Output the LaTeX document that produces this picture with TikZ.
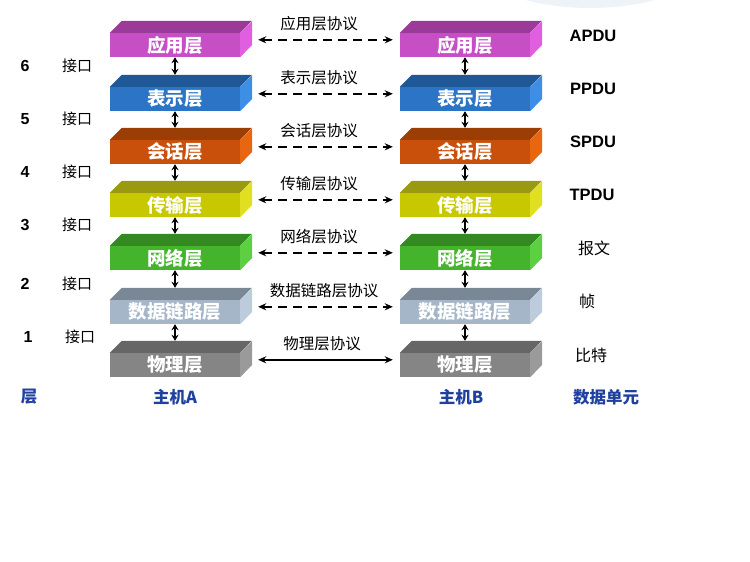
\documentclass[tikz,border=0pt]{standalone}
\usepackage{fontspec}
\setmainfont{Liberation Sans}
\newfontfamily\cjk{Noto Sans CJK SC}
\usetikzlibrary{arrows.meta}
\definecolor{swoosh}{HTML}{EEF3F8}
\definecolor{labblue}{HTML}{2040A0}
\definecolor{apF}{HTML}{C64FC6}\definecolor{apT}{HTML}{9C3A99}\definecolor{apS}{HTML}{E05EE0}
\definecolor{prF}{HTML}{2B74C6}\definecolor{prT}{HTML}{1F5896}\definecolor{prS}{HTML}{3D8EE6}
\definecolor{seF}{HTML}{C8500A}\definecolor{seT}{HTML}{9A3E06}\definecolor{seS}{HTML}{E8660F}
\definecolor{trF}{HTML}{C8C800}\definecolor{trT}{HTML}{9A9A10}\definecolor{trS}{HTML}{E0E020}
\definecolor{neF}{HTML}{44B42C}\definecolor{neT}{HTML}{338A22}\definecolor{neS}{HTML}{5CD040}
\definecolor{dlF}{HTML}{A4B6C8}\definecolor{dlT}{HTML}{7A8896}\definecolor{dlS}{HTML}{BCCCDC}
\definecolor{phF}{HTML}{858585}\definecolor{phT}{HTML}{666666}\definecolor{phS}{HTML}{9A9A9A}
\newcommand\mylayer[7]{%
  \node[frontface, fill=#4] (#1) at (#2,#3) {#7};
  \fill[#5] (#1.north west) -- ++(12,-12) -- ++(130,0) -- (#1.north east) -- cycle;
  \fill[#6] (#1.north east) -- ++(12,-12) -- ++(0,24) -- (#1.south east) -- cycle;
}
\begin{document}
\begin{tikzpicture}[x=1pt,y=-1pt,
  frontface/.style={rectangle, inner sep=0pt, minimum width=130pt, minimum height=24pt,
    text=white, font=\cjk\bfseries\fontsize{18.5}{18.5}\selectfont},
  protolab/.style={font=\cjk\fontsize{15.5}{15.5}\selectfont, text=black},
  proto/.style={line width=1.8pt, dash pattern=on 9pt off 6pt,
    {Stealth[length=8pt,width=7pt]}-{Stealth[length=8pt,width=7pt]}},
  protosolid/.style={line width=1.8pt,
    {Stealth[length=8pt,width=7pt]}-{Stealth[length=8pt,width=7pt]}},
  varrow/.style={line width=1.5pt, {Stealth[length=6pt,width=7pt]}-{Stealth[length=6pt,width=7pt]}},
  numlab/.style={font=\bfseries\fontsize{16}{16}\selectfont},
  iflab/.style={font=\cjk\fontsize{15}{15}\selectfont},
  pdulab/.style={font=\bfseries\fontsize{16.5}{16.5}\selectfont},
  pducjk/.style={font=\cjk\fontsize{16}{16}\selectfont},
  bottomlab/.style={font=\cjk\bfseries\fontsize{16.5}{16.5}\selectfont, text=labblue}
]
\useasboundingbox (0,0) rectangle (750,562);
\fill[swoosh] (590,-30) ellipse [x radius=105, y radius=38];

% host A
\mylayer{a0}{175}{45}{apF}{apT}{apS}{应用层}
\mylayer{a1}{175}{99}{prF}{prT}{prS}{表示层}
\mylayer{a2}{175}{152}{seF}{seT}{seS}{会话层}
\mylayer{a3}{175}{205}{trF}{trT}{trS}{传输层}
\mylayer{a4}{175}{258}{neF}{neT}{neS}{网络层}
\mylayer{a5}{175}{312}{dlF}{dlT}{dlS}{数据链路层}
\mylayer{a6}{175}{365}{phF}{phT}{phS}{物理层}
% host B
\mylayer{b0}{465}{45}{apF}{apT}{apS}{应用层}
\mylayer{b1}{465}{99}{prF}{prT}{prS}{表示层}
\mylayer{b2}{465}{152}{seF}{seT}{seS}{会话层}
\mylayer{b3}{465}{205}{trF}{trT}{trS}{传输层}
\mylayer{b4}{465}{258}{neF}{neT}{neS}{网络层}
\mylayer{b5}{465}{312}{dlF}{dlT}{dlS}{数据链路层}
\mylayer{b6}{465}{365}{phF}{phT}{phS}{物理层}

% vertical arrows
\foreach \i/\j in {0/1,1/2,2/3,3/4,4/5,5/6}{
  \draw[varrow] (a\i.south) -- ([yshift=12pt]a\j.north);
  \draw[varrow] (b\i.south) -- ([yshift=12pt]b\j.north);
}

% protocol arrows
\foreach \i in {0,...,5}{
  \draw[proto] ([shift={(18,7)}]a\i.north east) -- ([shift={(-7,7)}]b\i.north west);
}
\draw[protosolid] ([shift={(18,7)}]a6.north east) -- ([shift={(-7,7)}]b6.north west);

% protocol labels
\node[protolab] (p0) at (319,24) {应用层协议};
\node[protolab] (p1) at (319,78) {表示层协议};
\node[protolab] (p2) at (319,131) {会话层协议};
\node[protolab] (p3) at (319,184) {传输层协议};
\node[protolab] (p4) at (319,237) {网络层协议};
\node[protolab] (p5) at (324,291) {数据链路层协议};
\node[protolab] (p6) at (322,344) {物理层协议};

% left labels
\node[numlab] (n6) at (25,66) {6};  \node[iflab] (i6) at (77,66) {接口};
\node[numlab] (n5) at (25,119) {5}; \node[iflab] (i5) at (77,119) {接口};
\node[numlab] (n4) at (25,172) {4}; \node[iflab] (i4) at (77,172) {接口};
\node[numlab] (n3) at (25,225) {3}; \node[iflab] (i3) at (77,225) {接口};
\node[numlab] (n2) at (25,284) {2}; \node[iflab] (i2) at (77,284) {接口};
\node[numlab] (n1) at (28,337) {1}; \node[iflab] (i1) at (80,337) {接口};

% right labels
\node[pdulab] (u0) at (593,36) {APDU};
\node[pdulab] (u1) at (593,89) {PPDU};
\node[pdulab] (u2) at (593,142) {SPDU};
\node[pdulab] (u3) at (592,195) {TPDU};
\node[pducjk] (u4) at (594,248) {报文};
\node[pducjk] (u5) at (587,301) {帧};
\node[pducjk] (u6) at (591,355) {比特};

% bottom labels
\node[bottomlab] (l0) at (29,397) {层};
\node[bottomlab] (l1) at (175,397) {主机A};
\node[bottomlab] (l2) at (461,397) {主机B};
\node[bottomlab] (l3) at (606,397) {数据单元};
\end{tikzpicture}
\end{document}
